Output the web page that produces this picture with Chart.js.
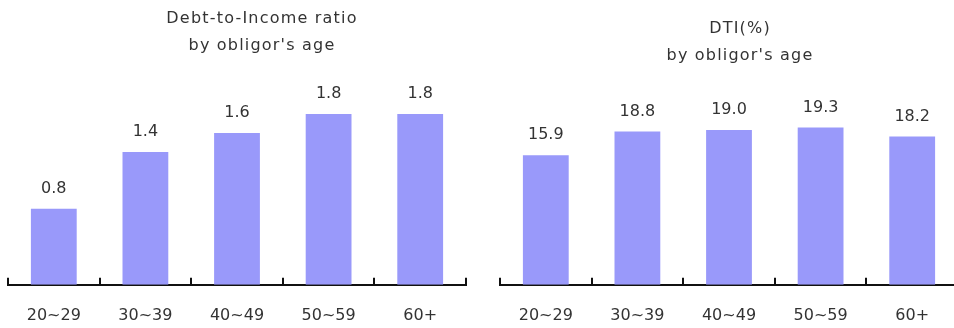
<!DOCTYPE html>
<html lang="en">
<head>
<meta charset="utf-8">
<title>Debt-to-Income by obligor's age</title>
<script src="https://cdn.jsdelivr.net/npm/chart.js"></script>
<style>
  html, body { margin: 0; padding: 0; background: #fff; overflow: hidden; }
  #page { position: relative; width: 954px; height: 328px; overflow: hidden;
          font-family: "DejaVu Sans", sans-serif; color: #333; }
  .ttl { position: absolute; width: 300px; text-align: center; font-size: 16px;
         line-height: 27px; letter-spacing: 1.2px; }
  .box { position: absolute; top: 0; height: 349px; }
</style>
</head>
<body>
<div id="page">
  <div class="box" style="left:0;width:477px"><canvas id="ratioChart" width="477" height="349"></canvas></div>
  <div class="box" style="left:477px;width:490px"><canvas id="dtiChart" width="490" height="349"></canvas></div>
  <div class="ttl" style="left:112px;top:4px">Debt-to-Income ratio<br>by obligor's age</div>
  <div class="ttl" style="left:590px;top:14px">DTI(%)<br>by obligor's age</div>
</div>
<script>
var ageGroups = ['20~29', '30~39', '40~49', '50~59', '60+'];
var ratioValues = [0.8, 1.4, 1.6, 1.8, 1.8];
var dtiValues = [15.9, 18.8, 19.0, 19.3, 18.2];

var barColor = '#9999fa';
var textColor = '#333';

Chart.defaults.font.family = '"DejaVu Sans", sans-serif';
Chart.defaults.font.size = 16;
Chart.defaults.color = textColor;

// value printed above each bar
var valueLabels = {
  id: 'valueLabels',
  afterDatasetsDraw: function (chart) {
    var ctx = chart.ctx;
    var meta = chart.getDatasetMeta(0);
    var data = chart.data.datasets[0].data;
    ctx.save();
    ctx.font = '16px "DejaVu Sans", sans-serif';
    ctx.fillStyle = textColor;
    ctx.textAlign = 'center';
    ctx.textBaseline = 'middle';
    meta.data.forEach(function (bar, i) {
      ctx.fillText(data[i].toFixed(1), bar.x, bar.y - 20);
    });
    ctx.restore();
  }
};

// short upward tick marks between the categories
var boundaryTicks = {
  id: 'boundaryTicks',
  afterDraw: function (chart) {
    var x = chart.scales.x;
    var base = chart.chartArea.bottom;
    var n = chart.data.labels.length;
    var step = (x.right - x.left) / n;
    var ctx = chart.ctx;
    ctx.save();
    ctx.strokeStyle = '#111';
    ctx.lineWidth = 2;
    ctx.beginPath();
    for (var i = 0; i <= n; i++) {
      var px = Math.round(x.left + i * step);
      ctx.moveTo(px, base - 7);
      ctx.lineTo(px, base);
    }
    ctx.stroke();
    ctx.restore();
  }
};

function makeChart(id, values, yMax, padding) {
  return new Chart(id, {
    type: 'bar',
    data: {
      labels: ageGroups,
      datasets: [{
        data: values,
        backgroundColor: barColor,
        borderWidth: 0,
        categoryPercentage: 1,
        barPercentage: 0.5
      }]
    },
    options: {
      responsive: false,
      animation: false,
      layout: { padding: padding },
      plugins: {
        legend: { display: false },
        tooltip: { enabled: false }
      },
      scales: {
        x: {
          grid: { display: false, drawTicks: false },
          border: { display: true, color: '#111', width: 2 },
          ticks: { padding: 21, color: textColor }
        },
        y: {
          display: false,
          min: 0,
          max: yMax
        }
      }
    },
    plugins: [valueLabels, boundaryTicks]
  });
}

makeChart('ratioChart', ratioValues, 2.2, { left: 8, right: 11, top: 76, bottom: 3 });
makeChart('dtiChart', dtiValues, 25, { left: 23, right: 9, top: 81, bottom: 3 });
</script>
</body>
</html>
